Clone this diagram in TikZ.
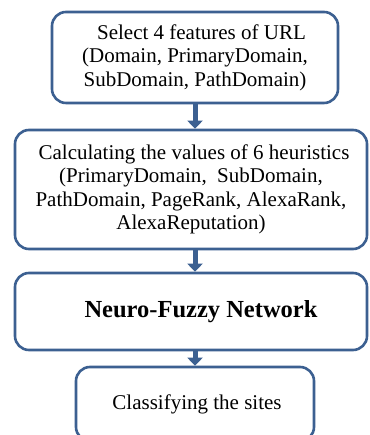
\documentclass[tikz,border=0pt]{standalone}
\usepackage{fontspec}
\setmainfont{Liberation Serif}
\usetikzlibrary{arrows.meta}
\definecolor{boxblue}{RGB}{60,96,145}
\begin{document}
\begin{tikzpicture}[x=1pt,y=1pt,
  stagebox/.style={draw=boxblue, line width=2.6pt, rounded corners=14pt,
    rectangle, align=center, inner sep=0pt, text=black,
    font=\fontsize{21}{23.5}\selectfont},
  flow/.style={draw=boxblue, line width=5pt,
    -{Triangle[width=15pt,length=8pt]}, boxblue}]
\useasboundingbox (0,0) rectangle (369,435);
\clip (0,0) rectangle (369,435);
\fill[white] (0,0) rectangle (369,435);

\node[stagebox, minimum width=286pt, minimum height=91pt] (b1) at (195,377.5)
  {\hspace*{13pt}Select 4 features of URL\\(Domain, PrimaryDomain,\\SubDomain, PathDomain)};
\node[stagebox, minimum width=352pt, minimum height=119pt] (b2) at (191,245.5)
  {\hspace*{6pt}Calculating the values of 6 heuristics\\(PrimaryDomain,\ \ SubDomain,\\PathDomain, PageRank, AlexaRank,\\AlexaReputation)};
\node[stagebox, minimum width=352pt, minimum height=77pt,
  font=\fontsize{24.5}{28}\selectfont\bfseries] (b3) at (191,123.5)
  {\hspace*{20pt}Neuro-Fuzzy Network};
\node[stagebox, minimum width=238pt, minimum height=74pt] (b4) at (195,31)
  {\hspace*{4pt}Classifying the sites};

\draw[flow] (b1.south) -- (b1.south |- b2.north);
\draw[flow] (b1.south |- b2.south) -- (b1.south |- b3.north);
\draw[flow] (b4.north |- b3.south) -- (b4.north);
\end{tikzpicture}
\end{document}
